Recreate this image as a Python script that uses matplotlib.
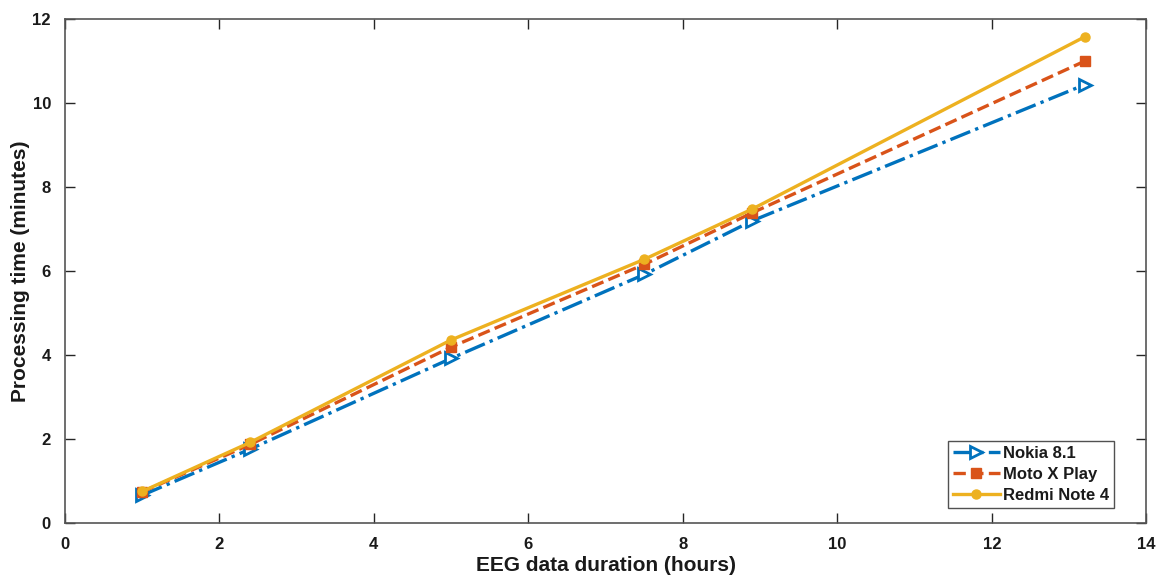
import matplotlib
matplotlib.use("Agg")
import matplotlib.pyplot as plt

plt.rcParams['font.family'] = ['Liberation Sans', 'DejaVu Sans']
plt.rcParams['font.weight'] = 'bold'

hours = [1, 2.4, 5, 7.5, 8.9, 13.2]
nokia = [0.66, 1.76, 3.92, 5.92, 7.2, 10.44]
moto = [0.74, 1.87, 4.19, 6.16, 7.39, 11.0]
redmi = [0.75, 1.92, 4.36, 6.28, 7.48, 11.58]
series_labels = ['Nokia 8.1', 'Moto X Play', 'Redmi Note 4']

fig = plt.figure(figsize=(11.58, 5.83), dpi=100)
ax = fig.add_axes([0.056, 0.103, 0.934, 0.864])

ax.plot(hours, nokia, color='#0072BD', linestyle='-.', linewidth=2.4,
        marker='>', markersize=8, markerfacecolor='white', markeredgewidth=2, label=series_labels[0])
ax.plot(hours, moto, color='#D95319', linestyle='--', linewidth=2.4,
        marker='s', markersize=6.5, label=series_labels[1])
ax.plot(hours, redmi, color='#EDB120', linestyle='-', linewidth=2.4,
        marker='o', markersize=6.5, label=series_labels[2])

ax.set_xlim(0, 14)
ax.set_ylim(0, 12)
ax.set_xticks(range(0, 15, 2))
ax.set_yticks(range(0, 13, 2))
ax.tick_params(direction='in', length=7, width=1, labelsize=12, colors='#262626',
               top=True, right=True, labelcolor='#1a1a1a')
ax.tick_params(axis='x', pad=10)
ax.tick_params(axis='y', pad=10)
for lab in ax.get_xticklabels() + ax.get_yticklabels():
    lab.set_fontweight('bold')
for s in ax.spines.values():
    s.set_color('#555555')
    s.set_linewidth(1.2)

ax.set_xlabel('EEG data duration (hours)', fontsize=15, fontweight='bold', color='#1a1a1a', labelpad=3)
ax.set_ylabel('Processing time (minutes)', fontsize=15, fontweight='bold', color='#1a1a1a', labelpad=2)

leg = ax.legend(loc='lower right', fontsize=12, frameon=True, fancybox=False,
                edgecolor='#262626', handlelength=2.8, borderpad=0.3, labelspacing=0.35,
                handletextpad=0.2, borderaxespad=0.0, bbox_to_anchor=(0.97, 0.03))
leg.get_frame().set_linewidth(1.0)
for t in leg.get_texts():
    t.set_fontweight('bold')
    t.set_color('#1a1a1a')

fig.savefig('out.png', dpi=100)
